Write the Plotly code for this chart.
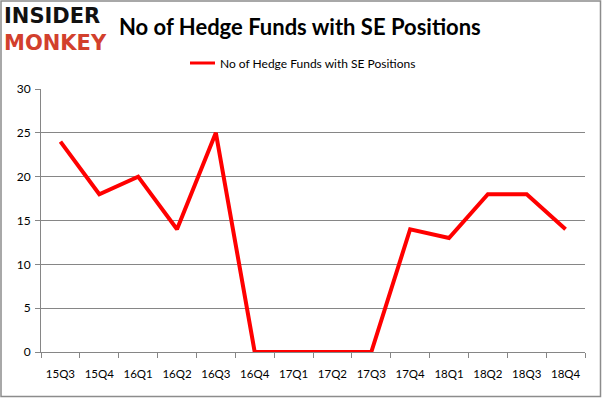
import plotly.graph_objects as go

quarters = ["15Q3", "15Q4", "16Q1", "16Q2", "16Q3", "16Q4", "17Q1",
            "17Q2", "17Q3", "17Q4", "18Q1", "18Q2", "18Q3", "18Q4"]
hedge_funds = [24, 18, 20, 14, 25, 0, 0, 0, 0, 14, 13, 18, 18, 14]
series_name = "No of Hedge Funds with SE Positions"
y_ticks = [0, 5, 10, 15, 20, 25, 30]

W, H = 602, 398
L, R, T, B = 41, 585, 89, 352
pw, ph = R - L, B - T
LINE_RED = "#ff0000"

def px(x):
    return (x - L) / pw

def py(y):
    return (B - y) / ph

fig = go.Figure()
fig.add_trace(go.Scatter(
    x=quarters, y=hedge_funds, mode="lines", name=series_name,
    line=dict(color=LINE_RED, width=4), cliponaxis=False, showlegend=False,
))

grid = "#868686"
fig.update_layout(
    width=W, height=H,
    margin=dict(l=L, r=W - R, t=T, b=H - B, pad=0, autoexpand=False),
    paper_bgcolor="white", plot_bgcolor="white",
    font=dict(family="Lato, Carlito, sans-serif", size=11, color="#000000"),
    showlegend=False,
    xaxis=dict(type="category", range=[-0.5, 13.5], showgrid=False,
               showline=True, linecolor=grid, linewidth=1, automargin=False,
               ticks="outside", tickson="boundaries", ticklen=5, tickcolor=grid,
               ticklabelstandoff=11, tickfont=dict(size=11.5)),
    yaxis=dict(range=[0, 30], tickvals=y_ticks, showgrid=True, gridcolor=grid,
               gridwidth=1, showline=True, linecolor=grid, linewidth=1,
               automargin=False,
               ticks="outside", ticklen=5, tickcolor=grid, zeroline=False,
               ticklabelstandoff=2, tickfont=dict(size=12)),
)

# outer frame
fig.add_shape(type="rect", xref="paper", yref="paper",
              x0=px(1), x1=px(600.5), y0=py(396.5), y1=py(1),
              line=dict(color="#8c8c8c", width=1.5), fillcolor="rgba(0,0,0,0)",
              layer="below")

# legend (line sample + label)
fig.add_shape(type="line", xref="paper", yref="paper",
              x0=px(190), x1=px(215), y0=py(63), y1=py(63),
              line=dict(color=LINE_RED, width=3))
fig.add_annotation(text=series_name, xref="paper", yref="paper",
                   x=px(218), y=py(63), xanchor="left", yanchor="middle",
                   showarrow=False, font=dict(size=12, color="#000000"))

fig.add_annotation(text="<b>No of Hedge Funds with SE Positions</b>",
                   xref="paper", yref="paper", x=px(300), y=py(26),
                   xanchor="center", yanchor="middle", showarrow=False,
                   font=dict(size=22, color="#000000", family="Lato, sans-serif"))
fig.add_annotation(text="<b>INSIDER</b><br><span style='color:#d2402d'><b>MONKEY</b></span>",
                   xref="paper", yref="paper",
                   x=px(55), y=py(29), xanchor="center", yanchor="middle",
                   align="left", showarrow=False,
                   font=dict(size=21, color="#111111", family="DejaVu Sans"))

fig.write_html("out.html", config={"displayModeBar": False},
               post_script="document.body.style.margin='0px';")
